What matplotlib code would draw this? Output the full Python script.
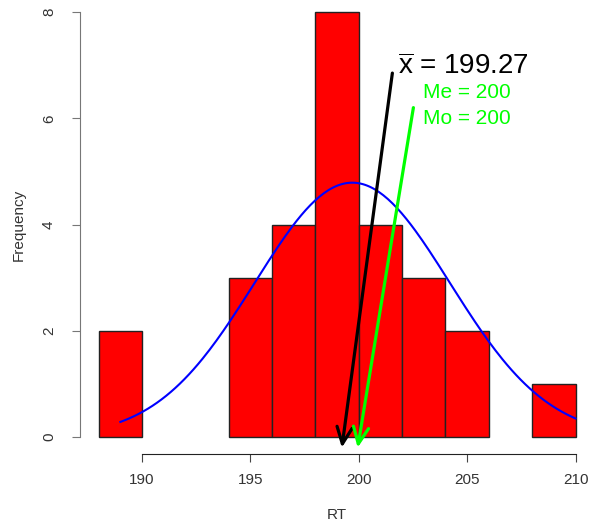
import matplotlib
matplotlib.use("Agg")
import matplotlib.pyplot as plt
import numpy as np

plt.rcParams["font.family"] = ["Liberation Sans", "DejaVu Sans"]
plt.rcParams["mathtext.fontset"] = "custom"
plt.rcParams["mathtext.rm"] = "Liberation Sans"
plt.rcParams["mathtext.it"] = "Liberation Sans"

# histogram of RT, bins of width 2
bin_edges = [188, 190, 192, 194, 196, 198, 200, 202, 204, 206, 208, 210]
counts = [2, 0, 0, 3, 4, 8, 4, 3, 2, 0, 1]

# fitted normal curve (scaled to counts)
n_obs = 27
curve_mean = 199.7
curve_sd = 4.5
curve_from, curve_to = 189, 210

mean_value = 199.27
median_value = 200
mode_value = 200

fig = plt.figure(figsize=(5.89, 5.29), dpi=100)
ax = fig.add_axes([79.6 / 589, 75 / 529, 515 / 589, 459 / 529])

left = np.array(bin_edges[:-1])
widths = np.diff(bin_edges)
cnt = np.array(counts)
keep = cnt > 0  # empty bins leave no mark
ax.bar(left[keep], cnt[keep], width=widths[keep], align="edge",
       color="#ff0000", edgecolor="#222222", linewidth=1)

xs = np.linspace(curve_from, curve_to, 200)
ys = n_obs * 2 * np.exp(-0.5 * ((xs - curve_mean) / curve_sd) ** 2) / (curve_sd * np.sqrt(2 * np.pi))
ax.plot(xs, ys, color="#0000ff", lw=1.5)

ax.set_xlim(187.12, 210.88)
ax.set_ylim(-0.32, 8.32)

# arrows pointing at the mean and median/mode
ax.annotate("", xy=(mean_value - 0.05, -0.2), xytext=(201.55, 6.85),
            arrowprops=dict(arrowstyle="->,head_length=1.2,head_width=0.55",
                            color="black", lw=2.3, mutation_scale=10,
                            shrinkA=0, shrinkB=0))
ax.annotate("", xy=(median_value - 0.05, -0.2), xytext=(202.52, 6.2),
            arrowprops=dict(arrowstyle="->,head_length=1.2,head_width=0.55",
                            color="#00ff00", lw=2.3, mutation_scale=10,
                            shrinkA=0, shrinkB=0))

ax.text(201.82, 6.97, r"$\overline{\mathrm{x}}$ = " + f"{mean_value:.2f}",
        fontsize=20, va="center", ha="left", color="black")
ax.text(202.98, 6.48, f"Me = {median_value}", fontsize=15,
        va="center", ha="left", color="#00ff00")
ax.text(202.98, 5.99, f"Mo = {mode_value}", fontsize=15,
        va="center", ha="left", color="#00ff00")

for s in ["top", "right"]:
    ax.spines[s].set_visible(False)
ax.spines["left"].set_bounds(0, 8)
ax.spines["bottom"].set_bounds(190, 210)
ax.spines["left"].set_color("#777777")
ax.spines["bottom"].set_color("#222222")

ax.set_xticks([190, 195, 200, 205, 210])
ax.set_yticks([0, 2, 4, 6, 8])
ax.tick_params(axis="both", length=6, labelsize=11, labelcolor="#333333")
ax.tick_params(axis="x", pad=8, color="#444444")
ax.tick_params(axis="y", pad=11, color="#777777")
for lab in ax.get_yticklabels():
    lab.set_rotation(90)
    lab.set_va("center")

ax.set_xlabel("RT", fontsize=11, color="#333333", labelpad=15)
ax.set_ylabel("Frequency", fontsize=11, color="#333333", labelpad=12)

fig.savefig("out.png", dpi=100)
